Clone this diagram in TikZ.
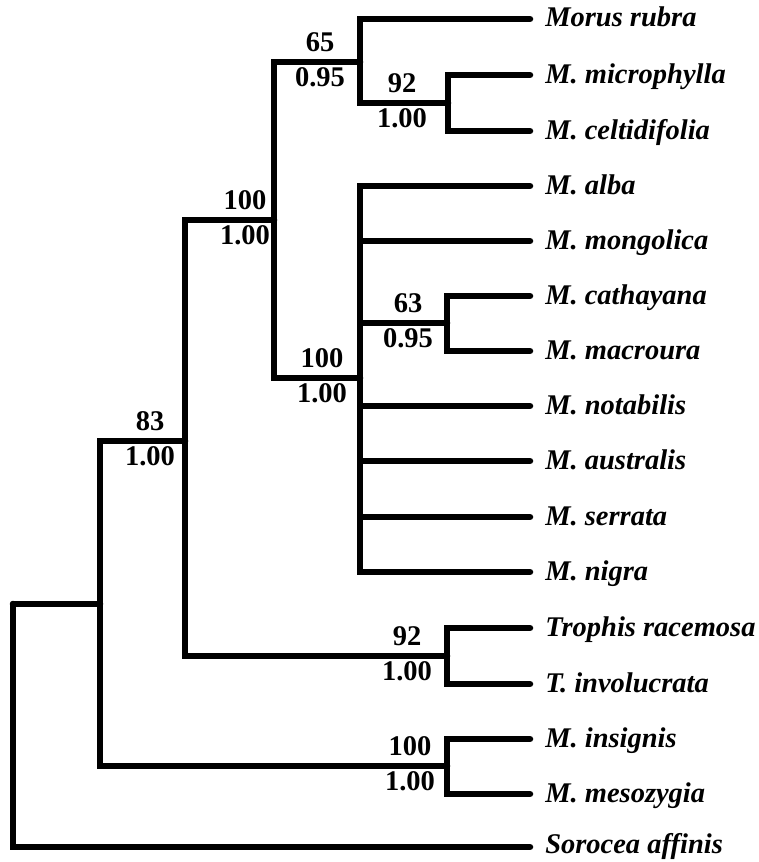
\documentclass[tikz,border=0pt]{standalone}
\usepackage{fontspec}
\setmainfont{Liberation Serif}
\newcommand{\treefont}{\fontsize{28.5}{30}\selectfont\bfseries}

\begin{document}
\begin{tikzpicture}[x=1pt, y=-1pt, line width=6.5pt, line cap=round, line join=miter]
  \tikzstyle{taxon}=[anchor=base west, inner sep=0pt, xshift=12pt, yshift=-8pt, font=\treefont\itshape]
  \tikzstyle{boot}=[anchor=base, inner sep=0pt, yshift=11pt, font=\treefont]
  \tikzstyle{post}=[anchor=base, inner sep=0pt, yshift=-24pt, font=\treefont]
  \useasboundingbox (0,0) rectangle (759,862);

  % tips
  \coordinate (rubra) at (530,19);
  \coordinate (micro) at (530,75);
  \coordinate (celt) at (530,131);
  \coordinate (alba) at (530,186);
  \coordinate (mong) at (530,241);
  \coordinate (cath) at (530,296);
  \coordinate (macr) at (530,351);
  \coordinate (notab) at (530,406);
  \coordinate (austr) at (530,461);
  \coordinate (serr) at (530,517);
  \coordinate (nigra) at (530,572);
  \coordinate (troph) at (530,628);
  \coordinate (invol) at (530,684);
  \coordinate (insig) at (530,739);
  \coordinate (meso) at (530,794);
  \coordinate (soro) at (530,847);

  \node[taxon] (trubra) at (rubra) {Morus rubra};
  \node[taxon] (tmicro) at (micro) {M. microphylla};
  \node[taxon] (tcelt) at (celt) {M. celtidifolia};
  \node[taxon] (talba) at (alba) {M. alba};
  \node[taxon] (tmong) at (mong) {M. mongolica};
  \node[taxon] (tcath) at (cath) {M. cathayana};
  \node[taxon] (tmacr) at (macr) {M. macroura};
  \node[taxon] (tnotab) at (notab) {M. notabilis};
  \node[taxon] (taustr) at (austr) {M. australis};
  \node[taxon] (tserr) at (serr) {M. serrata};
  \node[taxon] (tnigra) at (nigra) {M. nigra};
  \node[taxon] (ttroph) at (troph) {Trophis racemosa};
  \node[taxon] (tinvol) at (invol) {T. involucrata};
  \node[taxon] (tinsig) at (insig) {M. insignis};
  \node[taxon] (tmeso) at (meso) {M. mesozygia};
  \node[taxon, yshift=2pt] (tsoro) at (soro) {Sorocea affinis};

  % internal nodes
  \coordinate (nE) at (448,103);
  \coordinate (nD) at (360,62);
  \coordinate (nG) at (447,323);
  \coordinate (nF) at (360,378);
  \coordinate (nC) at (274,220);
  \coordinate (nT) at (447,656);
  \coordinate (nB) at (185,441);
  \coordinate (nI) at (447,766);
  \coordinate (nA) at (100,604);
  \coordinate (root) at (13,604);

  % branches
  \draw (root) |- (nA);
  \draw (root) |- (soro);
  \draw (nA) |- (nB);
  \draw (nA) |- (nI);
  \draw (nB) |- (nC);
  \draw (nB) |- (nT);
  \draw (nC) |- (nD);
  \draw (nC) |- (nF);
  \draw (nD) |- (rubra);
  \draw (nD) |- (nE);
  \draw (nE) |- (micro);
  \draw (nE) |- (celt);
  \draw (nF) |- (alba);
  \draw (nF) -- (mong -| nF) -- (mong);
  \draw (nF) |- (nG);
  \draw (nF) -- (notab -| nF) -- (notab);
  \draw (nF) -- (austr -| nF) -- (austr);
  \draw (nF) -- (serr -| nF) -- (serr);
  \draw (nF) |- (nigra);
  \draw (nG) |- (cath);
  \draw (nG) |- (macr);
  \draw (nT) |- (troph);
  \draw (nT) |- (invol);
  \draw (nI) |- (insig);
  \draw (nI) |- (meso);

  % support values
  \node[boot, xshift=-40pt] (bD) at (nD) {65};
  \node[post, xshift=-40pt] (pD) at (nD) {0.95};
  \node[boot, xshift=-46pt] (bE) at (nE) {92};
  \node[post, xshift=-46pt] (pE) at (nE) {1.00};
  \node[boot, xshift=-29pt] (bC) at (nC) {100};
  \node[post, xshift=-29pt] (pC) at (nC) {1.00};
  \node[boot, xshift=-39pt] (bG) at (nG) {63};
  \node[post, xshift=-39pt] (pG) at (nG) {0.95};
  \node[boot, xshift=-38pt] (bF) at (nF) {100};
  \node[post, xshift=-38pt] (pF) at (nF) {1.00};
  \node[boot, xshift=-35pt] (bB) at (nB) {83};
  \node[post, xshift=-35pt] (pB) at (nB) {1.00};
  \node[boot, xshift=-40pt] (bT) at (nT) {92};
  \node[post, xshift=-40pt] (pT) at (nT) {1.00};
  \node[boot, xshift=-37pt] (bI) at (nI) {100};
  \node[post, xshift=-37pt] (pI) at (nI) {1.00};
\end{tikzpicture}
\end{document}
